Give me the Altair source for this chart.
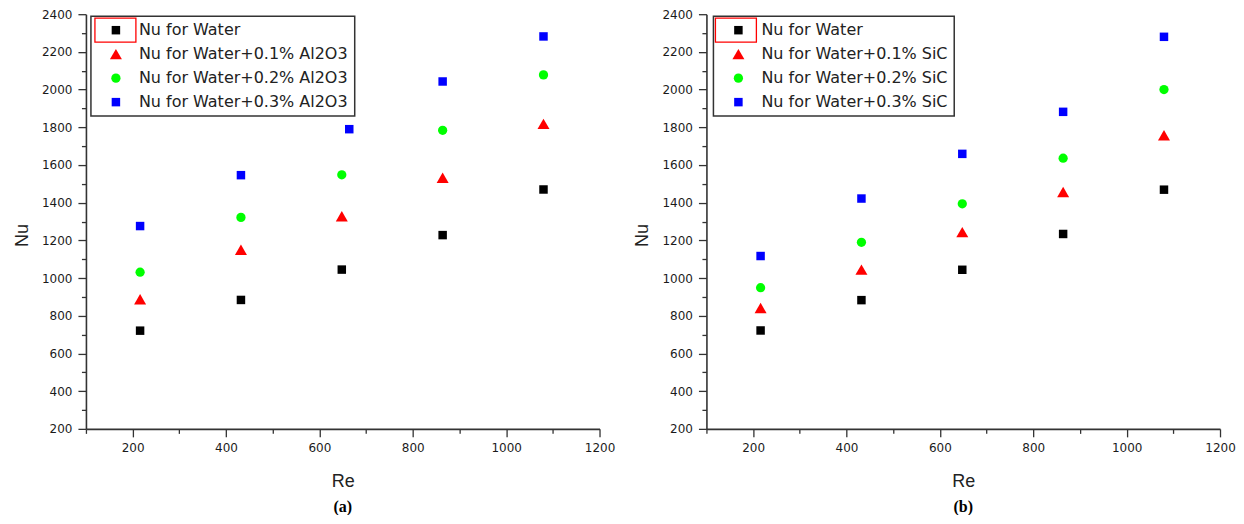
import altair as alt
import pandas as pd

# ---- data ----
re_vals = [216, 432, 648, 864, 1080]
re_vals_a_03 = [216, 432, 664, 864, 1080]

nu_water_a = [721, 884, 1045, 1228, 1470]
nu_01_a = [888, 1150, 1328, 1532, 1818]
nu_02_a = [1031, 1322, 1548, 1784, 2078]
nu_03_a = [1276, 1546, 1790, 2043, 2282]

nu_water_b = [722, 883, 1044, 1234, 1469]
nu_01_b = [841, 1045, 1244, 1457, 1758]
nu_02_b = [949, 1190, 1394, 1636, 2000]
nu_03_b = [1117, 1422, 1659, 1882, 2280]

series_a = ["Nu for Water", "Nu for Water+0.1% Al2O3",
            "Nu for Water+0.2% Al2O3", "Nu for Water+0.3% Al2O3"]
series_b = ["Nu for Water", "Nu for Water+0.1% SiC",
            "Nu for Water+0.2% SiC", "Nu for Water+0.3% SiC"]
colors = ["#000000", "#ff0000", "#00ff00", "#0000ff"]
shapes = ["square", "triangle-up", "circle", "square"]
sizes = [72, 144, 86, 72]

x_ticks = list(range(100, 1201, 100))
y_ticks = list(range(200, 2401, 100))


def make_df(series, xs_list, ys_list):
    rows = []
    for s, xs, ys in zip(series, xs_list, ys_list):
        for x, y in zip(xs, ys):
            rows.append({"Re": x, "Nu": y, "Series": s})
    return pd.DataFrame(rows)


df_a = make_df(series_a, [re_vals, re_vals, re_vals, re_vals_a_03],
               [nu_water_a, nu_01_a, nu_02_a, nu_03_a])
df_b = make_df(series_b, [re_vals, re_vals, re_vals, re_vals],
               [nu_water_b, nu_01_b, nu_02_b, nu_03_b])

major_test = "datum.value % 200 === 0"


def panel(df, series, caption, lx, ly):
    legend = alt.Legend(orient="none", legendX=lx, legendY=ly, title=None)
    x_axis = alt.Axis(values=x_ticks, format="d",
                      labelExpr=f"{major_test} ? datum.label : ''",
                      tickSize={"condition": {"test": major_test, "value": 8}, "value": 4.5},
                      labelFlush=False, labelOverlap=False, grid=False, title="Re",
                      titlePadding=19, labelPadding=6, orient="bottom")
    y_axis = alt.Axis(values=y_ticks, format="d",
                      labelExpr=f"{major_test} ? datum.label : ''",
                      tickSize={"condition": {"test": major_test, "value": 8}, "value": 4.5},
                      labelFlush=False, labelOverlap=False, grid=False, title="Nu",
                      titlePadding=10, labelPadding=6, orient="left", titleY=221)
    pts = alt.Chart(df).mark_point(filled=True, opacity=1, strokeWidth=0).encode(
        x=alt.X("Re:Q", scale=alt.Scale(domain=[100, 1200], nice=False, zero=False), axis=x_axis),
        y=alt.Y("Nu:Q", scale=alt.Scale(domain=[200, 2400], nice=False, zero=False), axis=y_axis),
        color=alt.Color("Series:N", scale=alt.Scale(domain=series, range=colors), legend=legend),
        shape=alt.Shape("Series:N", scale=alt.Scale(domain=series, range=shapes), legend=legend),
        size=alt.Size("Series:N", scale=alt.Scale(type="ordinal", domain=series, range=sizes),
                      legend=legend),
    )
    box = alt.Chart(pd.DataFrame({"k": [0]})).mark_rect(
        filled=False, stroke="#ff0000", strokeWidth=1.3
    ).encode(x=alt.value(9), x2=alt.value(50), y=alt.value(4), y2=alt.value(28))
    return alt.layer(pts, box).properties(
        width=514, height=415,
        title=alt.TitleParams(caption, orient="bottom", font="Liberation Serif",
                              fontSize=16, fontWeight="bold", color="#000000", offset=8),
    )


left = panel(df_a, series_a, "(a)", 5, 2)
right = panel(df_b, series_b, "(b)", 7, 2)

chart = alt.hconcat(left, right, spacing=18).resolve_scale(
    color="independent", shape="independent", size="independent"
).configure(
    padding={"left": 5, "top": 0, "right": 0, "bottom": 0}
).configure_view(stroke=None).configure_axis(
    labelFont="DejaVu Sans", labelFontSize=12, labelColor="#1a1a1a",
    titleFont="Liberation Sans", titleFontSize=18, titleFontWeight="normal", titleColor="#222222",
    domainColor="#333333", domainWidth=1.6, tickColor="#333333", tickWidth=1.3,
).configure_legend(
    labelFont="DejaVu Sans", labelFontSize=16, labelColor="#222222",
    strokeColor="#333333", strokeWidth=1.5, padding=6, rowPadding=8,
    symbolOffset=11, labelOffset=15, labelLimit=400,
)

chart.save("out.html", embed_options={"renderer": "svg", "actions": False})
